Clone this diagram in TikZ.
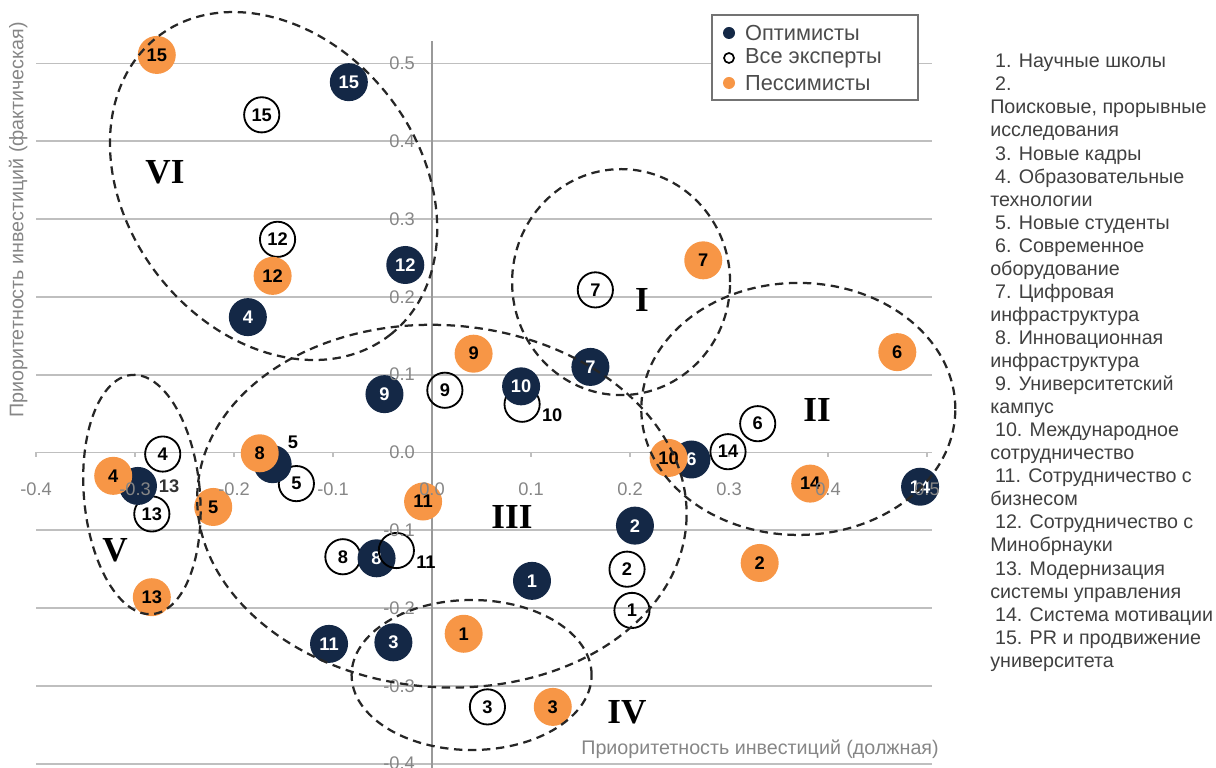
\documentclass[tikz,border=0pt]{standalone}
\usepackage{fontspec}
\setmainfont{Liberation Sans}
\newfontfamily\romanfont{Liberation Serif}
\usepackage{tikz}
\definecolor{optblue}{HTML}{142846}
\definecolor{pesorange}{HTML}{F79646}
\definecolor{gridgray}{HTML}{BFBFBF}
\definecolor{axisgray}{HTML}{868686}
\newcommand{\numind}{\hspace*{0.12cm}}

\begin{document}
\begin{tikzpicture}
  \tikzstyle{gridln}=[draw=gridgray,line width=1.2pt]
  \tikzstyle{optpt}=[circle,fill=optblue,text=white,minimum size=0.95cm,inner sep=0pt,font=\fontsize{13}{13}\selectfont\bfseries]
  \tikzstyle{pespt}=[circle,fill=pesorange,text=black,minimum size=0.95cm,inner sep=0pt,font=\fontsize{13}{13}\selectfont\bfseries]
  \tikzstyle{allpt}=[circle,draw=black,line width=1.3pt,minimum size=0.88cm,inner sep=0pt,font=\fontsize{13}{13}\selectfont\bfseries]
  \tikzstyle{ptlbl}=[inner sep=1pt,font=\fontsize{13}{13}\selectfont\bfseries]
  \tikzstyle{ticklbl}=[text=axisgray,inner sep=0pt,font=\fontsize{13}{13}\selectfont]
  \tikzstyle{zone}=[draw=black!85,line width=1.6pt,dash pattern=on 0.21cm off 0.14cm]
  \tikzstyle{zonename}=[inner sep=0pt,font=\romanfont\bfseries\fontsize{25}{25}\selectfont]
  \tikzstyle{legtxt}=[anchor=west,inner sep=0pt,text=black!70,font=\fontsize{15.5}{15.5}\selectfont]
  \useasboundingbox (0,0) rectangle (30.4,19.2);

  \begin{scope}[shift={(10.8,7.8875)},x=24.75cm,y=19.45cm]
    \foreach \v in {0.5,0.4,0.3,0.2,0.1,0.0,-0.1,-0.2,-0.3,-0.4}
      \draw[gridln] (-0.4,\v) -- (0.505,\v);
    \foreach \v in {-0.4,-0.3,-0.2,-0.1,0.1,0.2,0.3,0.4,0.5}
      \draw[gridln] (\v,0) -- ++(0,-0.12cm);
    \draw[draw=black!40,line width=1.2pt] (0,-0.42) -- (0,0.529);

    \node[allpt] (A_1) at (0.202,-0.203) {1};
    \node[allpt] (A_2) at (0.197,-0.150) {2};
    \node[allpt] (A_3) at (0.056,-0.327) {3};
    \node[allpt] (A_4) at (-0.272,-0.002) {4};
    \node[allpt] (A_5) at (-0.137,-0.040) {5};
    \node[allpt] (A_6) at (0.329,0.037) {6};
    \node[allpt] (A_7) at (0.165,0.209) {7};
    \node[allpt] (A_8) at (-0.090,-0.134) {8};
    \node[allpt] (A_9) at (0.013,0.080) {9};
    \node[allpt,label={[ptlbl]-10:10}] (A_10) at (0.091,0.062) {};
    \node[allpt] (A_12) at (-0.156,0.274) {12};
    \node[allpt] (A_13) at (-0.283,-0.079) {13};
    \node[allpt] (A_14) at (0.299,0.001) {14};
    \node[allpt] (A_15) at (-0.172,0.434) {15};

    \node[optpt] (O_1) at (0.101,-0.165) {1};
    \node[optpt] (O_2) at (0.205,-0.094) {2};
    \node[optpt] (O_3) at (-0.039,-0.244) {3};
    \node[optpt] (O_4) at (-0.186,0.174) {4};
    \node[optpt,label={[ptlbl,text=black]45:5}] (O_5) at (-0.161,-0.015) {};
    \node[optpt] (O_6) at (0.262,-0.009) {6};
    \node[optpt] (O_7) at (0.160,0.110) {7};
    \node[optpt] (O_8) at (-0.056,-0.136) {8};
    \node[optpt] (O_9) at (-0.048,0.075) {9};
    \node[optpt] (O_10) at (0.090,0.085) {10};
    \node[optpt] (O_11) at (-0.104,-0.246) {11};
    \node[optpt] (O_12) at (-0.027,0.241) {12};
    \node[optpt,label={[ptlbl,text=black!80]right:13}] (O_13) at (-0.297,-0.043) {};
    \node[optpt] (O_14) at (0.493,-0.044) {14};
    \node[optpt] (O_15) at (-0.084,0.476) {15};

    \node[allpt,label={[ptlbl]-10:11}] (A_11) at (-0.036,-0.126) {};

    \node[pespt] (P_1) at (0.032,-0.233) {1};
    \node[pespt] (P_2) at (0.331,-0.142) {2};
    \node[pespt] (P_3) at (0.122,-0.327) {3};
    \node[pespt] (P_4) at (-0.322,-0.030) {4};
    \node[pespt] (P_5) at (-0.221,-0.070) {5};
    \node[pespt] (P_6) at (0.470,0.129) {6};
    \node[pespt] (P_7) at (0.274,0.247) {7};
    \node[pespt] (P_8) at (-0.174,-0.001) {8};
    \node[pespt] (P_9) at (0.042,0.127) {9};
    \node[pespt] (P_10) at (0.239,-0.007) {10};
    \node[pespt] (P_11) at (-0.009,-0.063) {11};
    \node[pespt] (P_12) at (-0.161,0.227) {12};
    \node[pespt] (P_13) at (-0.283,-0.186) {13};
    \node[pespt] (P_14) at (0.382,-0.040) {14};
    \node[pespt] (P_15) at (-0.278,0.511) {15};

    \foreach \v [count=\i] in {-0.4,-0.3,-0.2,-0.1,0.0,0.1,0.2,0.3,0.4,0.5}
      \node[ticklbl] (xt\i) at (\v,-0.047) {\v};
    \foreach \v [count=\i] in {0.5,0.4,0.3,0.2,0.1,0.0,-0.1,-0.2,-0.3,-0.4}
      \node[ticklbl,anchor=east] (yt\i) at (-0.017,\v) {\v};

    \coordinate (Z_VI) at (-0.160,0.3425);
    \coordinate (Z_I) at (0.191,0.219);
    \coordinate (Z_II) at (0.370,0.056);
    \coordinate (Z_III) at (0.010,-0.069);
    \coordinate (Z_IV) at (0.040,-0.286);
    \coordinate (Z_V) at (-0.293,-0.054);
  \end{scope}

  \draw[zone,rotate around={-52:(Z_VI)}] (Z_VI) ellipse [x radius=4.725cm,y radius=3.65cm];
  \draw[zone] (Z_I) ellipse [x radius=2.725cm,y radius=2.825cm];
  \draw[zone] (Z_II) ellipse [x radius=3.925cm,y radius=3.15cm];
  \draw[zone,rotate around={-4:(Z_III)}] (Z_III) ellipse [x radius=6.125cm,y radius=4.525cm];
  \draw[zone] (Z_IV) ellipse [x radius=3cm,y radius=1.875cm];
  \draw[zone,rotate around={5:(Z_V)}] (Z_V) ellipse [x radius=1.45cm,y radius=3cm];

  \node[zonename] (N_VI) at (4.125,14.9) {VI};
  \node[zonename] (N_I) at (16.05,11.7) {I};
  \node[zonename] (N_II) at (20.425,8.95) {II};
  \node[zonename] (N_III) at (12.8,6.275) {III};
  \node[zonename] (N_IV) at (15.675,1.4) {IV};
  \node[zonename] (N_V) at (2.875,5.45) {V};

  \node[draw=black!55,line width=1pt,fill=white,minimum width=5.15cm,minimum height=2.125cm,inner sep=0pt] (legend) at (20.375,17.7625) {};
  \node[optpt,minimum size=0.3cm] (L_O) at (18.225,18.375) {};
  \node[allpt,line width=1.2pt,minimum size=0.25cm] (L_A) at (18.225,17.75) {};
  \node[pespt,minimum size=0.3cm] (L_P) at (18.225,17.125) {};
  \node[legtxt] (T_O) at (18.62,18.375) {Оптимисты};
  \node[legtxt] (T_A) at (18.62,17.75) {Все эксперты};
  \node[legtxt] (T_P) at (18.62,17.125) {Пессимисты};

  \node[rotate=90,text=axisgray,inner sep=0pt,font=\fontsize{14}{14}\selectfont] (ytitle) at (0.45,13.7) {Приоритетность инвестиций (фактическая)};
  \node[text=axisgray,inner sep=0pt,font=\fontsize{14}{14}\selectfont] (xtitle) at (19.0,0.475) {Приоритетность инвестиций (должная)};

  \node[anchor=north west,align=left,inner sep=0pt,text=black!75,font=\fontsize{14}{16.4}\selectfont] (list) at (24.75,17.85) {\numind 1. Научные школы\\
    \numind 2.\\
    Поисковые, прорывные\\
    исследования\\
    \numind 3. Новые кадры\\
    \numind 4. Образовательные\\
    технологии\\
    \numind 5. Новые студенты\\
    \numind 6. Современное\\
    оборудование\\
    \numind 7. Цифровая\\
    инфраструктура\\
    \numind 8. Инновационная\\
    инфраструктура\\
    \numind 9. Университетский\\
    кампус\\
    \numind 10. Международное\\
    сотрудничество\\
    \numind 11. Сотрудничество с\\
    бизнесом\\
    \numind 12. Сотрудничество с\\
    Минобрнауки\\
    \numind 13. Модернизация\\
    системы управления\\
    \numind 14. Система мотивации\\
    \numind 15. PR и продвижение\\
    университета};
\end{tikzpicture}
\end{document}
